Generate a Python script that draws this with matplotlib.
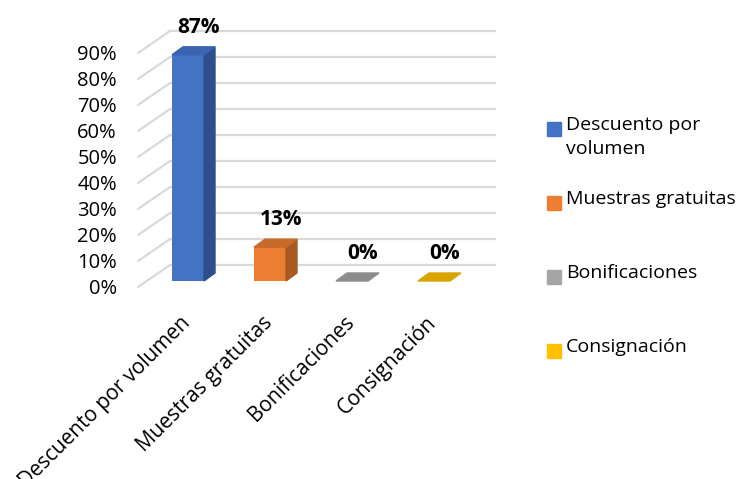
import numpy as np
import matplotlib
matplotlib.use("Agg")
import matplotlib.pyplot as plt
from matplotlib.patches import Polygon, Rectangle

plt.rcParams['font.family'] = ['Open Sans', 'DejaVu Sans']

categories = ["Descuento por volumen", "Muestras gratuitas", "Bonificaciones", "Consignación"]
values = [87, 13, 0, 0]
legend_labels = ["Descuento por\nvolumen", "Muestras gratuitas", "Bonificaciones", "Consignación"]
y_ticks = [0, 10, 20, 30, 40, 50, 60, 70, 80, 90]

front_colors = ["#4472C4", "#ED7D31", "#A5A5A5", "#FFC000"]
side_colors = ["#2F4F8C", "#A95A22", "#7A7A7A", "#BF9000"]
top_colors = ["#3A63B0", "#C86A2A", "#8C8C8C", "#D9A400"]

W, H = 752, 479
fig = plt.figure(figsize=(W / 100, H / 100), dpi=100)

# pixel geometry of the category/value plane
x0_px, xstep_px = 188, 82
y0_px, ystep_px = 281, 2.6
ax_left, ax_right, ax_top, ax_bot = 100, 520, 5, 300
ax = fig.add_axes([ax_left / W, 1 - ax_bot / H, (ax_right - ax_left) / W, (ax_bot - ax_top) / H])
ax.set_xlim((ax_left - x0_px) / xstep_px, (ax_right - x0_px) / xstep_px)
ax.set_ylim((y0_px - ax_bot) / ystep_px, (y0_px - ax_top) / ystep_px)
ax.axis("off")

def px_dx(p):
    return p / xstep_px

def px_dy(p):
    return p / ystep_px

# depth offsets
bar_dx, bar_dy = px_dx(11), px_dy(8)
back_dx, back_dy = px_dx(23), px_dy(16)
front_dx, front_dy = px_dx(-9), px_dy(-6)
grid_left = px_dx(147 - x0_px)
grid_right = px_dx(495 - x0_px)

# gridlines: side-wall diagonals plus back-wall horizontals
for t in y_ticks:
    ax.plot([grid_left + front_dx, grid_left + back_dx], [t + front_dy, t + back_dy],
            color="#D9D9D9", lw=1.6, solid_capstyle="round", zorder=1)
    ax.plot([grid_left + back_dx, grid_right], [t + back_dy, t + back_dy],
            color="#D9D9D9", lw=1.6, zorder=1)
    ax.text(px_dx(117 - x0_px), t + front_dy - px_dy(2), f"{t}%", ha="right", va="center",
            fontsize=14.5, color="#000000")

x = np.arange(len(categories))
bw = px_dx(32)
ax.bar(x, values, width=bw, color=front_colors, zorder=3)
for i, v in enumerate(values):
    l, r = x[i] - bw / 2, x[i] + bw / 2
    if v > 0:
        ax.add_patch(Polygon([(r, 0), (r + bar_dx, bar_dy), (r + bar_dx, v + bar_dy), (r, v)],
                             closed=True, color=side_colors[i], zorder=3))
    ax.add_patch(Polygon([(l, v), (r, v), (r + bar_dx, v + bar_dy), (l + bar_dx, v + bar_dy)],
                         closed=True, color=top_colors[i], zorder=3))
    ax.text(x[i] + bar_dx, v + bar_dy + px_dy(9), f"{v}%", ha="center", va="bottom",
            fontsize=15, fontweight="bold", color="#000000", zorder=4)
    ax.text(x[i] - px_dx(8), px_dy(281 - 312), categories[i], rotation=45, rotation_mode="anchor",
            ha="right", va="top", fontsize=15, color="#000000", clip_on=False)

# legend
leg_y = [129, 203, 277, 351]
for i, lab in enumerate(legend_labels):
    fig.patches.append(Rectangle((547 / W, 1 - (leg_y[i] + 7) / H), 14 / W, 14 / H,
                                 transform=fig.transFigure, color=front_colors[i]))
    fig.text(566 / W, 1 - (leg_y[i] - 13) / H, lab, ha="left", va="top",
             fontsize=14, color="#000000", linespacing=1.45)

fig.savefig("out.png", dpi=100)
